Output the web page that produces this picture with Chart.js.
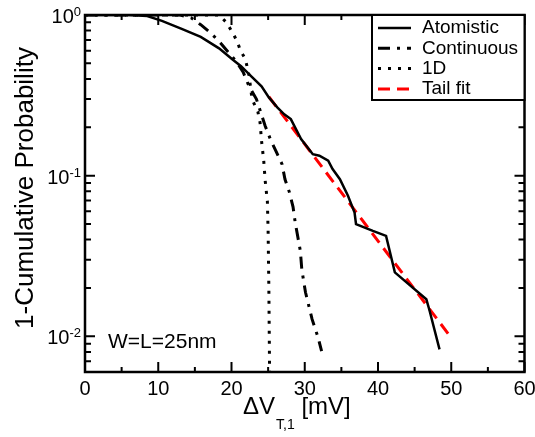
<!DOCTYPE html>
<html>
<head>
<meta charset="utf-8">
<script src="https://cdn.jsdelivr.net/npm/chart.js@4.4.1/dist/chart.umd.min.js"></script>
<style>
  html, body { margin: 0; padding: 0; background: #fff; }
  #wrap { width: 535px; height: 437px; }
</style>
</head>
<body>
<div id="wrap"><canvas id="c" width="535" height="437"></canvas></div>
<script>
// --- data ---
const atomX = [0, 6, 8.5, 10.5, 13.2, 15.8, 18.3, 20.1, 21.3, 22.6, 24.1, 25.1, 26.25, 27.2, 28.1, 29.5, 31.1, 32.0, 33.2, 33.8, 34.8, 35.9, 36.8, 37.0, 39.3, 41.1, 42.3, 46.6, 47.0, 48.4];
const atomY = [1, 1, 0.985, 0.92, 0.82, 0.73, 0.62, 0.53, 0.48, 0.42, 0.36, 0.307, 0.266, 0.241, 0.225, 0.169, 0.136, 0.133, 0.124, 0.110, 0.095, 0.075, 0.059, 0.050, 0.0453, 0.0422, 0.025, 0.017, 0.0147, 0.0083];

const contX = [0, 13, 14.5, 15.8, 17.2, 18.5, 20.7, 21.6, 22.4, 23.4, 24.6, 25.3, 26.1, 26.9, 27.3, 27.9, 28.4, 28.7, 29.4, 29.6, 30.1, 31.0, 31.8, 32.3];
const contY = [1, 1, 0.96, 0.87, 0.77, 0.67, 0.51, 0.44, 0.36, 0.30, 0.204, 0.169, 0.141, 0.118, 0.095, 0.079, 0.064, 0.051, 0.034, 0.026, 0.0188, 0.0128, 0.0099, 0.0081];

const oneDX = [0, 18.3, 19.3, 20.2, 20.8, 21.2, 21.9, 22.4, 22.8, 23.6, 23.9, 24.1, 24.4, 24.6, 24.9, 25.0, 25.1, 25.2];
const oneDY = [1, 1, 0.9, 0.77, 0.68, 0.605, 0.53, 0.42, 0.30, 0.25, 0.214, 0.165, 0.124, 0.093, 0.069, 0.045, 0.02, 0.006];

const fitX = [25.1, 50];
const fitY = [0.31, 0.0098];

const seriesNames = ['Atomistic', 'Continuous', '1D', 'Tail fit'];
const xTickValues = [0, 10, 20, 30, 40, 50, 60];
const yTickValues = [1, 0.1, 0.01];
const yTickExponents = ['0', '-1', '-2'];

const pts = (xs, ys) => xs.map((v, i) => ({ x: v, y: ys[i] }));
const FONT = '"Liberation Sans", Arial, Helvetica, sans-serif';

// axes, ticks, labels and legend drawn on top of the chart
const decor = {
  id: 'decor',
  afterDraw(chart) {
    const { ctx, chartArea: a, scales: { x, y } } = chart;
    ctx.save();
    ctx.strokeStyle = '#000';
    ctx.fillStyle = '#000';

    // inward ticks
    ctx.lineWidth = 2;
    ctx.beginPath();
    for (let v = 0; v <= 60; v += 5) {
      const px = x.getPixelForValue(v);
      const len = v % 10 === 0 ? 10 : 5;
      ctx.moveTo(px, a.bottom); ctx.lineTo(px, a.bottom - len);
      ctx.moveTo(px, a.top); ctx.lineTo(px, a.top + len);
    }
    for (let d = -3; d <= 0; d++) {
      for (let m = 1; m <= 9; m++) {
        const v = m * Math.pow(10, d);
        if (v < y.min * 0.999 || v > y.max * 1.001) continue;
        const py = y.getPixelForValue(v);
        const len = m === 1 ? 10 : 6;
        ctx.moveTo(a.left, py); ctx.lineTo(a.left + len, py);
        ctx.moveTo(a.right, py); ctx.lineTo(a.right - len, py);
      }
    }
    ctx.stroke();

    // frame
    ctx.lineWidth = 2.5;
    ctx.strokeRect(a.left, a.top, a.right - a.left, a.bottom - a.top);

    // x tick labels
    ctx.font = '20px ' + FONT;
    ctx.textAlign = 'center';
    ctx.textBaseline = 'alphabetic';
    xTickValues.forEach(v => {
      ctx.fillText(String(v), x.getPixelForValue(v), a.bottom + 23);
    });

    // y tick labels 10^n
    yTickValues.forEach((v, i) => {
      const py = y.getPixelForValue(v);
      ctx.font = '13px ' + FONT;
      const ew = ctx.measureText(yTickExponents[i]).width;
      ctx.textAlign = 'right';
      ctx.fillText(yTickExponents[i], 81, py + 1);
      ctx.font = '20px ' + FONT;
      ctx.fillText('10', 81 - ew, py + 8);
    });

    // y title
    ctx.save();
    ctx.translate(26, 188);
    ctx.rotate(-Math.PI / 2);
    ctx.font = '26px ' + FONT;
    ctx.textAlign = 'center';
    ctx.textBaseline = 'middle';
    ctx.fillText('1-Cumulative Probability', 0, 0);
    ctx.restore();

    // x title: ΔV_{T,1} [mV]
    ctx.textAlign = 'left';
    let tx = 243;
    ctx.font = '24px ' + FONT;
    ctx.fillText('\u0394V', tx, 414);
    tx += ctx.measureText('\u0394V').width + 1;
    ctx.font = '14px ' + FONT;
    ctx.fillText('T,1', tx, 429);
    tx += ctx.measureText('T,1').width;
    ctx.font = '24px ' + FONT;
    ctx.fillText(' [mV]', tx, 414);

    // annotation
    ctx.font = '21px ' + FONT;
    ctx.fillText('W=L=25nm', 108, 348);

    // legend
    const lx = 372, ly = a.top, lw = a.right - 372, lh = 85;
    ctx.fillStyle = '#fff';
    ctx.fillRect(lx, ly, lw, lh);
    ctx.lineWidth = 2;
    ctx.strokeRect(lx, ly, lw, lh);
    ctx.fillStyle = '#000';
    ctx.font = '19px ' + FONT;
    ctx.textBaseline = 'middle';
    chart.data.datasets.forEach((ds, i) => {
      const yy = 28 + i * 20.3;
      ctx.save();
      ctx.strokeStyle = ds.borderColor;
      ctx.lineWidth = ds.borderWidth;
      ctx.setLineDash(ds.borderDash || []);
      ctx.beginPath();
      ctx.moveTo(378, yy); ctx.lineTo(411, yy);
      ctx.stroke();
      ctx.restore();
      ctx.fillText(ds.label, 422, yy);
    });

    ctx.restore();
  }
};

new Chart(document.getElementById('c').getContext('2d'), {
  type: 'line',
  data: {
    datasets: [
      { label: seriesNames[0], data: pts(atomX, atomY), borderColor: '#000', borderWidth: 2.5, borderDash: [] },
      { label: seriesNames[1], data: pts(contX, contY), borderColor: '#000', borderWidth: 3, borderDash: [12, 7, 3, 7] },
      { label: seriesNames[2], data: pts(oneDX, oneDY), borderColor: '#000', borderWidth: 3, borderDash: [3, 7] },
      { label: seriesNames[3], data: pts(fitX, fitY), borderColor: 'rgb(255,0,0)', borderWidth: 3, borderDash: [12, 7] }
    ]
  },
  options: {
    responsive: false,
    animation: false,
    events: [],
    elements: { point: { radius: 0 }, line: { tension: 0, fill: false, borderCapStyle: 'butt' } },
    layout: { padding: { left: 85, right: 10.5, top: 15, bottom: 65 } },
    plugins: { legend: { display: false }, tooltip: { enabled: false } },
    scales: {
      x: { type: 'linear', min: 0, max: 60, display: false },
      y: { type: 'logarithmic', min: 0.006, max: 1, display: false }
    }
  },
  plugins: [decor]
});
</script>
</body>
</html>
